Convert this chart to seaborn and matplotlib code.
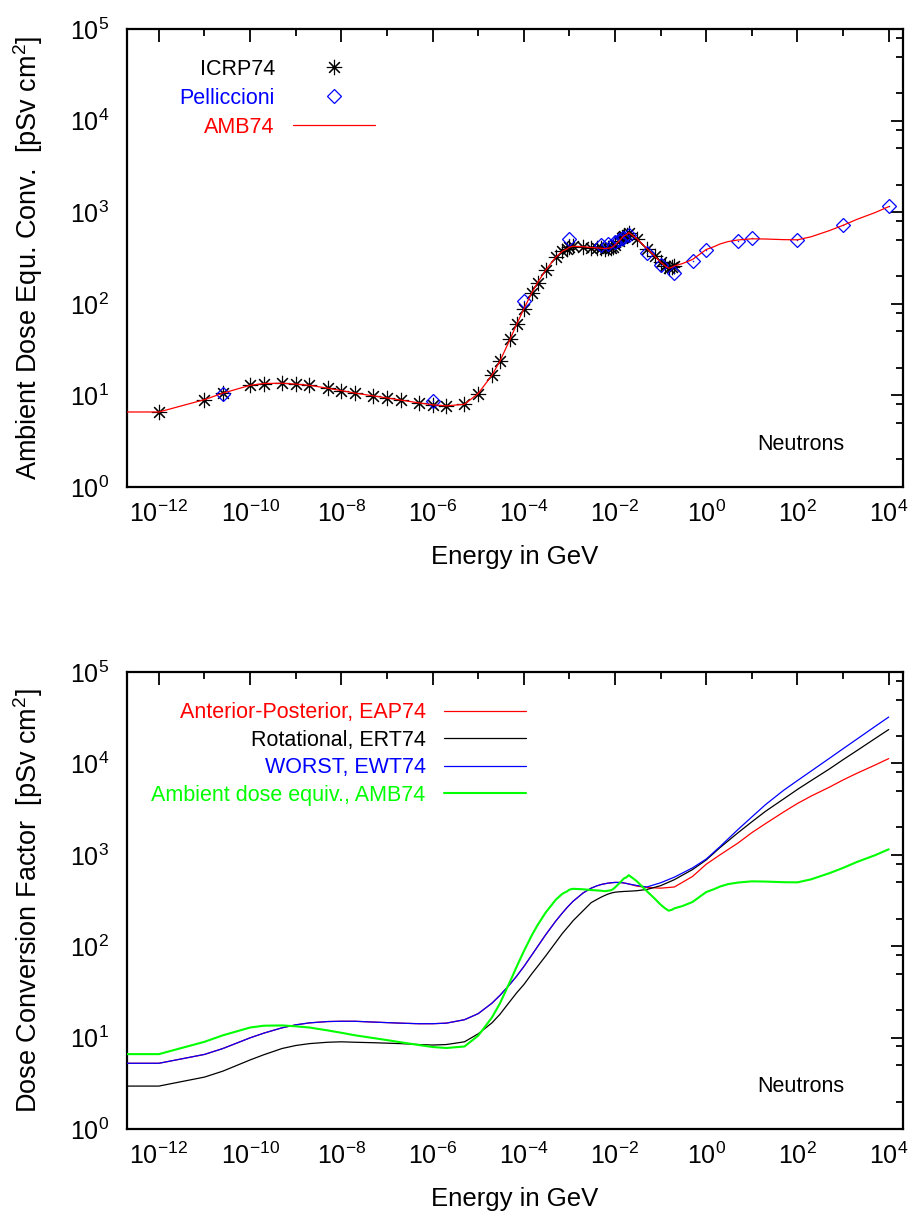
import numpy as np
import pandas as pd
import matplotlib
matplotlib.use("Agg")
import matplotlib.pyplot as plt
from matplotlib.ticker import FixedLocator, FixedFormatter, NullFormatter
import seaborn as sns

# ---------------------------------------------------------------------------
# Neutron fluence-to-dose conversion coefficients, energies in GeV,
# coefficients in pSv cm^2
# ---------------------------------------------------------------------------

# ICRP74 ambient dose equivalent H*(10)
icrp74_energy = [1e-12, 1e-11, 2.53e-11, 1e-10, 2e-10, 5e-10, 1e-9, 2e-9, 5e-9,
                 1e-8, 2e-8, 5e-8, 1e-7, 2e-7, 5e-7, 1e-6, 2e-6, 5e-6, 1e-5,
                 2e-5, 3e-5, 5e-5, 7e-5, 1e-4, 1.5e-4, 2e-4, 3e-4, 5e-4, 7e-4,
                 9e-4, 1e-3, 1.2e-3, 2e-3, 3e-3, 4e-3, 5e-3, 6e-3, 7e-3, 8e-3,
                 9e-3, 1e-2, 1.2e-2, 1.4e-2, 1.5e-2, 1.6e-2, 1.8e-2, 2e-2, 3e-2,
                 5e-2, 7.5e-2, 0.1, 0.125, 0.15, 0.175, 0.201]
icrp74_value = [6.6, 9.0, 10.6, 12.9, 13.5, 13.6, 13.3, 12.9, 12.0,
                11.3, 10.6, 9.9, 9.4, 8.9, 8.3, 7.9, 7.7, 8.0, 10.5,
                16.6, 23.7, 41.1, 60.0, 88.0, 132, 170, 233, 322, 375,
                400, 416, 425, 420, 412, 408, 405, 400, 405, 409,
                420, 440, 480, 520, 540, 555, 570, 600, 515,
                400, 330, 285, 260, 245, 250, 260]

# Pelliccioni ambient dose equivalent
pell_energy = [2.53e-11, 1e-6, 1e-4, 1e-3, 5e-3, 7e-3, 1e-2, 1.2e-2, 1.5e-2,
               2e-2, 5e-2, 0.1, 0.2, 0.5, 1.0, 5.0, 10.0, 100.0, 1000.0, 1e4]
pell_value = [10.5, 8.8, 108, 505, 438, 450, 470, 495, 525,
              560, 356, 266, 215, 293, 383, 490, 518, 498, 724, 1170]

# AMB74: ambient dose equivalent curve (ICRP74 below 0.2 GeV, extended above)
amb74_energy = [1e-13] + icrp74_energy + [0.3, 0.5, 1.0, 1.5, 2.0, 3.0, 5.0, 10.0,
                                          20.0, 50.0, 100.0, 200.0, 500.0, 1000.0,
                                          2000.0, 5000.0, 1e4]
amb74_value = [6.6] + icrp74_value + [275, 305, 392, 422, 450, 478, 498, 513,
                                      510, 502, 500, 540, 630, 720,
                                      835, 990, 1150]

# Effective dose: common energy grid
eff_energy = [1e-13, 1e-12, 1e-11, 2.53e-11, 1e-10, 2e-10, 5e-10, 1e-9, 2e-9, 5e-9,
              1e-8, 2e-8, 5e-8, 1e-7, 2e-7, 5e-7, 1e-6, 2e-6, 5e-6, 1e-5,
              2e-5, 3e-5, 5e-5, 7e-5, 1e-4, 1.5e-4, 2e-4, 3e-4, 5e-4, 7e-4,
              9e-4, 1e-3, 1.2e-3, 2e-3, 3e-3, 4e-3, 5e-3, 6e-3, 7e-3, 8e-3,
              9e-3, 1e-2, 1.2e-2, 1.4e-2, 1.5e-2, 1.6e-2, 1.8e-2, 2e-2, 3e-2,
              5e-2, 0.1, 0.2, 0.5, 1.0, 2.0, 5.0, 10.0, 20.0, 50.0, 100.0,
              200.0, 500.0, 1000.0, 2000.0, 5000.0, 1e4]

# Anterior-Posterior, EAP74
eap74_value = [5.24, 5.24, 6.55, 7.6, 9.95, 11.2, 12.8, 13.8, 14.5, 15.0,
               15.1, 15.1, 14.8, 14.6, 14.4, 14.2, 14.2, 14.4, 15.7, 18.3,
               23.8, 29.0, 38.5, 47.2, 59.8, 80.2, 99.0, 133, 188, 231,
               267, 282, 310, 383, 432, 458, 474, 483, 490, 494,
               497, 499, 499, 496, 494, 491, 486, 480, 455,
               440, 432, 445, 580, 790, 1000, 1350, 1750, 2200, 2950, 3650,
               4400, 5500, 6600, 7800, 9600, 11300]

# Rotational, ERT74
ert74_value = [2.95, 2.95, 3.7, 4.3, 5.7, 6.5, 7.6, 8.2, 8.6, 8.9,
               9.0, 8.9, 8.8, 8.7, 8.6, 8.4, 8.3, 8.4, 9.0, 11.0,
               14.5, 18.0, 25.0, 31.0, 38.0, 50.0, 60.0, 78.0, 110, 138,
               160, 170, 190, 245, 300, 325, 345, 360, 372, 380,
               386, 390, 394, 396, 397, 398, 399, 400, 405,
               418, 460, 535, 690, 880, 1200, 1750, 2300, 3000, 4100, 5200,
               6500, 8700, 11000, 13800, 18700, 23500]

# WORST, EWT74
ewt74_value = [5.24, 5.24, 6.55, 7.6, 9.95, 11.2, 12.8, 13.8, 14.5, 15.0,
               15.1, 15.1, 14.8, 14.6, 14.4, 14.2, 14.2, 14.4, 15.7, 18.3,
               23.8, 29.0, 38.5, 47.2, 59.8, 80.2, 99.0, 133, 188, 231,
               267, 282, 310, 383, 432, 458, 474, 483, 490, 494,
               497, 499, 499, 496, 494, 491, 486, 480, 462,
               445, 495, 570, 720, 900, 1230, 1900, 2600, 3550, 5100, 6500,
               8270, 11370, 14500, 18440, 25360, 32200]

# Axis ticks
x_label_exponents = [-12, -10, -8, -6, -4, -2, 0, 2, 4]
x_minor_exponents = [-11, -9, -7, -5, -3, -1, 1, 3]
y_label_exponents = [0, 1, 2, 3, 4, 5]
y_minor_mantissas = [2, 5, 8]
x_range = (2e-13, 2.05e4)
y_range = (1.0, 1e5)

# ---------------------------------------------------------------------------
sns.set_style("white")
plt.rcParams['font.family'] = ['Liberation Sans', 'DejaVu Sans']
plt.rcParams['mathtext.fontset'] = 'custom'
plt.rcParams['mathtext.rm'] = 'Liberation Sans'
plt.rcParams['mathtext.it'] = 'Liberation Sans:italic'
plt.rcParams['mathtext.bf'] = 'Liberation Sans:bold'
for key in ['text.color', 'axes.labelcolor', 'xtick.color', 'ytick.color',
            'axes.edgecolor']:
    plt.rcParams[key] = 'black'

LEGEND_FS = 15.5
XLABEL_FS = 18.5
YLABEL_FS = 19.5
TICK_FS = 18
GREEN = '#00ff00'


def decade_label(e):
    return r'$\mathregular{10^{%d}}$' % e


def style_axes(ax, ylabel):
    ax.set_xscale('log')
    ax.set_yscale('log')
    ax.set_xlim(*x_range)
    ax.set_ylim(*y_range)
    ax.xaxis.set_major_locator(FixedLocator([10.0 ** e for e in x_label_exponents]))
    ax.xaxis.set_major_formatter(FixedFormatter([decade_label(e) for e in x_label_exponents]))
    ax.xaxis.set_minor_locator(FixedLocator([10.0 ** e for e in x_minor_exponents]))
    ax.xaxis.set_minor_formatter(NullFormatter())
    ax.yaxis.set_major_locator(FixedLocator([10.0 ** e for e in y_label_exponents]))
    ax.yaxis.set_major_formatter(FixedFormatter([decade_label(e) for e in y_label_exponents]))
    ax.yaxis.set_minor_locator(FixedLocator([m * 10.0 ** e for e in y_label_exponents[:-1]
                                             for m in y_minor_mantissas]))
    ax.yaxis.set_minor_formatter(NullFormatter())
    ax.tick_params(which='both', direction='in', top=True, right=True,
                   width=1.3, color='black', labelcolor='black')
    ax.tick_params(which='major', length=9, labelsize=TICK_FS)
    ax.tick_params(which='minor', length=5)
    ax.tick_params(axis='x', which='both', pad=10)
    ax.tick_params(axis='y', which='both', pad=13)
    for spine in ax.spines.values():
        spine.set_visible(True)
        spine.set_linewidth(1.6)
        spine.set_color('black')
    ax.set_xlabel('Energy in GeV', fontsize=XLABEL_FS, color='black')
    ax.set_ylabel(ylabel, fontsize=YLABEL_FS, color='black')
    ax.xaxis.set_label_coords(0.5, -0.127)
    ax.yaxis.set_label_coords(-0.106, 0.5)
    ax.text(0.924, 0.092, 'Neutrons', transform=ax.transAxes, ha='right',
            va='center', fontsize=15.5, color='black')
    ax.grid(False)


fig = plt.figure(figsize=(9.15, 12.14), dpi=100)
ax_top = fig.add_axes([0.1388, 0.5988, 0.848, 0.3773])
ax_bot = fig.add_axes([0.1388, 0.0700, 0.848, 0.3764])

# ---------------- top panel: ambient dose equivalent -----------------------
df_icrp = pd.DataFrame({'energy': icrp74_energy, 'dose': icrp74_value})
df_pell = pd.DataFrame({'energy': pell_energy, 'dose': pell_value})
df_amb = pd.DataFrame({'energy': amb74_energy, 'dose': amb74_value})

ax_top.set_xscale('log')
ax_top.set_yscale('log')
sns.lineplot(data=df_icrp, x='energy', y='dose', ax=ax_top, sort=False,
             linestyle='', marker=(8, 2, 0), markersize=11, color='black',
             markeredgecolor='black', markeredgewidth=0.8, label='ICRP74', zorder=3)
sns.lineplot(data=df_pell, x='energy', y='dose', ax=ax_top, sort=False,
             linestyle='', marker='D', markersize=7.5, color='blue',
             markerfacecolor='none', markeredgecolor='blue', markeredgewidth=0.9,
             label='Pelliccioni', zorder=3)
sns.lineplot(data=df_pell, x='energy', y='dose', ax=ax_top, sort=False,
             linestyle='', marker='.', markersize=1.5, color='blue',
             markeredgecolor='blue', markeredgewidth=0.3, zorder=3)
sns.lineplot(data=df_amb, x='energy', y='dose', ax=ax_top, sort=False,
             color='red', linewidth=0.9, label='AMB74', zorder=4)

style_axes(ax_top, 'Ambient Dose Equ. Conv.  [pSv cm$^\\mathregular{2}$]')

handles, labels = ax_top.get_legend_handles_labels()
order = [labels.index(n) for n in ['ICRP74', 'Pelliccioni', 'AMB74']]
ax_top.legend([handles[i] for i in order], [labels[i] for i in order],
              loc='upper right', bbox_to_anchor=(0.3196, 0.935),
              frameon=False, markerfirst=False, numpoints=1,
              handlelength=3.8, handletextpad=0.85, labelspacing=0.37,
              borderpad=0, borderaxespad=0, fontsize=LEGEND_FS,
              labelcolor=['black', 'blue', 'red'])

# ---------------- bottom panel: dose conversion factors --------------------
df_eff = pd.DataFrame({'energy': eff_energy, 'EAP74': eap74_value,
                       'ERT74': ert74_value, 'EWT74': ewt74_value})

ax_bot.set_xscale('log')
ax_bot.set_yscale('log')
sns.lineplot(data=df_eff, x='energy', y='EAP74', ax=ax_bot, sort=False,
             color='red', linewidth=0.9, label='Anterior-Posterior, EAP74', zorder=3)
sns.lineplot(data=df_eff, x='energy', y='ERT74', ax=ax_bot, sort=False,
             color='black', linewidth=0.9, label='Rotational, ERT74', zorder=3)
sns.lineplot(data=df_eff, x='energy', y='EWT74', ax=ax_bot, sort=False,
             color='blue', linewidth=0.9, label='WORST, EWT74', zorder=4)
sns.lineplot(data=df_amb, x='energy', y='dose', ax=ax_bot, sort=False,
             color=GREEN, linewidth=1.5, label='Ambient dose equiv., AMB74', zorder=5)

style_axes(ax_bot, 'Dose Conversion Factor  [pSv cm$^\\mathregular{2}$]')

ax_bot.legend(loc='upper right', bbox_to_anchor=(0.514, 0.934),
              frameon=False, markerfirst=False,
              handlelength=3.8, handletextpad=0.85, labelspacing=0.30,
              borderpad=0, borderaxespad=0, fontsize=LEGEND_FS,
              labelcolor=['red', 'black', 'blue', GREEN])

fig.savefig('out.png', dpi=100, facecolor='white')
